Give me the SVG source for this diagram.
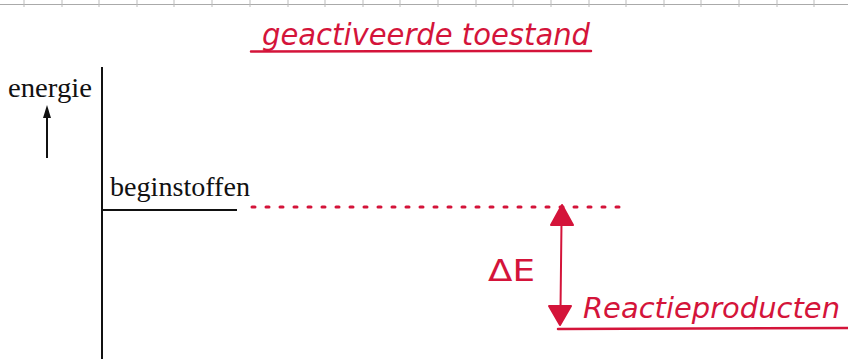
<svg xmlns="http://www.w3.org/2000/svg" width="848" height="359" viewBox="0 0 848 359">
<style>
.print{font-family:"Liberation Serif","Times New Roman",serif;fill:#111;font-size:27px}
.hand{font-family:"DejaVu Sans","Liberation Sans",sans-serif;fill:#d4143a;font-style:italic}
.red{stroke:#d4143a;fill:none;stroke-linecap:round}
.blk{stroke:#111;fill:none}
</style>
<rect width="848" height="359" fill="#fff"/>
<g id="paper-border">
<line x1="0" y1="4.5" x2="848" y2="4.5" stroke="#aaa" stroke-width="1"/>
<g stroke="#bbb" stroke-width="1">
<line x1="24" y1="0" x2="24" y2="7"/><line x1="62" y1="0" x2="62" y2="7"/><line x1="99" y1="0" x2="99" y2="7"/><line x1="137" y1="0" x2="137" y2="7"/><line x1="174" y1="0" x2="174" y2="7"/><line x1="212" y1="0" x2="212" y2="7"/><line x1="250" y1="0" x2="250" y2="7"/><line x1="288" y1="0" x2="288" y2="7"/><line x1="325" y1="0" x2="325" y2="7"/><line x1="363" y1="0" x2="363" y2="7"/><line x1="400" y1="0" x2="400" y2="7"/><line x1="438" y1="0" x2="438" y2="7"/><line x1="476" y1="0" x2="476" y2="7"/><line x1="513" y1="0" x2="513" y2="7"/><line x1="551" y1="0" x2="551" y2="7"/><line x1="589" y1="0" x2="589" y2="7"/><line x1="626" y1="0" x2="626" y2="7"/><line x1="664" y1="0" x2="664" y2="7"/><line x1="701" y1="0" x2="701" y2="7"/><line x1="739" y1="0" x2="739" y2="7"/><line x1="777" y1="0" x2="777" y2="7"/><line x1="814" y1="0" x2="814" y2="7"/>
</g>
</g>
<g id="title">
<text class="hand" x="262" y="45" font-size="30" textLength="328" lengthAdjust="spacingAndGlyphs">geactiveerde toestand</text>
<line class="red" x1="251" y1="51.5" x2="591" y2="51" stroke-width="2.5"/>
</g>
<g id="axis">
<text class="print" x="8" y="97" textLength="84" lengthAdjust="spacingAndGlyphs">energie</text>
<line class="blk" x1="47" y1="158" x2="47" y2="115" stroke-width="2"/>
<path d="M47,105 L51,118 L43,118 Z" fill="#111"/>
<line class="blk" x1="102" y1="67" x2="102" y2="359" stroke-width="2"/>
</g>
<g id="beginstoffen">
<text class="print" x="110" y="196" textLength="140" lengthAdjust="spacingAndGlyphs">beginstoffen</text>
<line class="blk" x1="102" y1="210" x2="237" y2="210" stroke-width="2"/>
</g>
<g id="reactieproducten">
<text class="hand" x="583" y="318" font-size="28" textLength="257" lengthAdjust="spacingAndGlyphs">Reactieproducten</text>
<line class="red" x1="558" y1="329" x2="848" y2="328" stroke-width="2.5"/>
</g>
<g id="connectors">
<line class="red" x1="252" y1="207" x2="630" y2="207" stroke-width="3" stroke-dasharray="3 11"/>
<line class="red" x1="561.5" y1="222" x2="560.5" y2="310" stroke-width="2"/>
<path d="M562,205 L573,225 L551,225 Z" fill="#d4143a" stroke="#d4143a" stroke-width="2" stroke-linejoin="round"/>
<path d="M549,306 L571,306 L560,325 Z" fill="#d4143a" stroke="#d4143a" stroke-width="2" stroke-linejoin="round"/>
<text class="hand" x="488" y="281" font-size="30" textLength="47" lengthAdjust="spacingAndGlyphs" style="font-style:normal">ΔE</text>
</g>
</svg>
